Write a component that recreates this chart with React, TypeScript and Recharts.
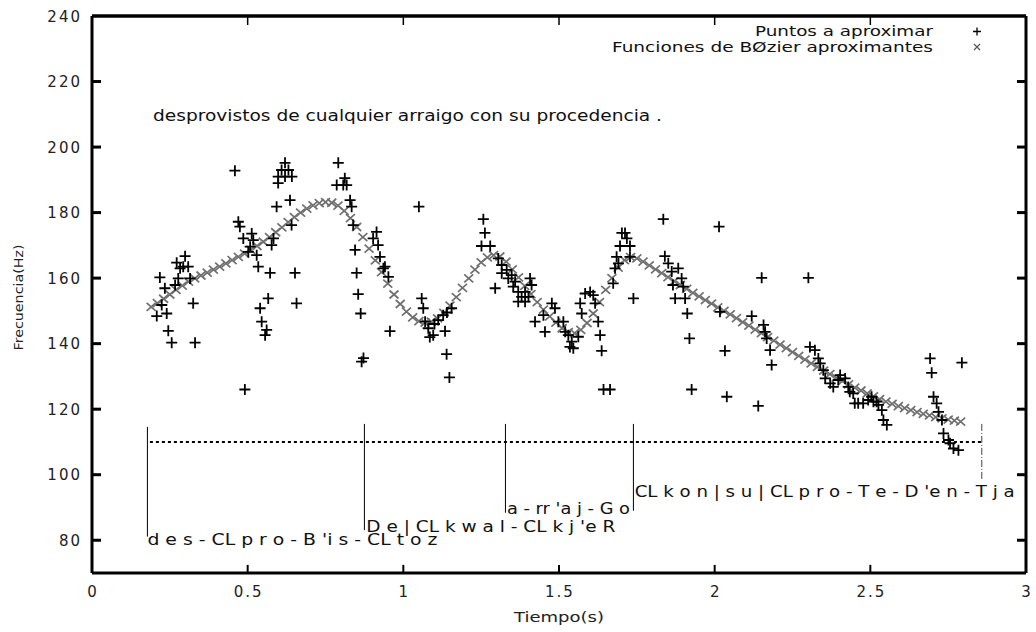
import { ScatterChart, Scatter, XAxis, YAxis, ReferenceLine, ReferenceDot, Legend } from "recharts"

// measured F0 samples: [tiempo (s), frecuencia (Hz)]
const puntos: [number, number][] = [
  [0.208, 148.4], [0.218, 160.2], [0.224, 151.8], [0.234, 156.9], [0.24, 149.2], [0.245, 143.9],
  [0.256, 140.3], [0.267, 157.9], [0.272, 164.7], [0.277, 159.9], [0.283, 163.0], [0.293, 163.5],
  [0.299, 166.7], [0.309, 163.5], [0.315, 159.9], [0.325, 152.3], [0.331, 140.3],
  [0.459, 192.8], [0.47, 177.2], [0.475, 175.7], [0.486, 172.1], [0.491, 126.0], [0.502, 168.0],
  [0.508, 169.6], [0.513, 173.6], [0.518, 171.6], [0.529, 167.0], [0.534, 163.5], [0.54, 150.8],
  [0.545, 146.7], [0.556, 142.6], [0.561, 144.2], [0.566, 153.8], [0.572, 161.6], [0.577, 170.1],
  [0.583, 172.1], [0.593, 181.8], [0.598, 189.0], [0.598, 191.0], [0.609, 193.0], [0.62, 195.2],
  [0.62, 191.0], [0.631, 193.0], [0.636, 183.8], [0.641, 176.2], [0.642, 191.0], [0.652, 161.6],
  [0.657, 152.3],
  [0.786, 188.4], [0.791, 195.2], [0.807, 188.4], [0.812, 190.5], [0.818, 188.4], [0.829, 183.8],
  [0.834, 181.8], [0.839, 176.2], [0.845, 168.6], [0.85, 161.6], [0.855, 155.1], [0.863, 149.2],
  [0.866, 134.5], [0.872, 135.6], [0.903, 172.1], [0.914, 174.1], [0.919, 170.1], [0.925, 166.5],
  [0.936, 163.0], [0.941, 163.5], [0.952, 160.4], [0.957, 143.8],
  [1.05, 181.8], [1.059, 153.8], [1.064, 150.8], [1.07, 146.7], [1.08, 144.7], [1.085, 142.0],
  [1.096, 142.6], [1.1, 146.0], [1.112, 147.2], [1.128, 148.7], [1.134, 143.8], [1.139, 136.8],
  [1.14, 149.5], [1.148, 129.7], [1.155, 150.8],
  [1.251, 169.8], [1.257, 178.0], [1.262, 173.8], [1.279, 169.8], [1.295, 156.9], [1.305, 166.0],
  [1.316, 164.0], [1.316, 161.5], [1.332, 162.5], [1.337, 159.9], [1.348, 160.9], [1.353, 157.4],
  [1.359, 158.9], [1.369, 155.8], [1.369, 152.8], [1.38, 154.3], [1.391, 155.8], [1.391, 152.8],
  [1.402, 154.3], [1.407, 159.9], [1.412, 157.9], [1.423, 146.7], [1.45, 148.7], [1.455, 143.6],
  [1.477, 152.3], [1.487, 150.8],
  [1.498, 146.7], [1.514, 146.7], [1.52, 143.6], [1.53, 142.6], [1.535, 139.0], [1.541, 140.6],
  [1.546, 138.6], [1.562, 142.1], [1.568, 152.3], [1.573, 149.2], [1.584, 155.3], [1.6, 155.8],
  [1.61, 154.8], [1.616, 152.3], [1.626, 146.7], [1.632, 142.6], [1.637, 137.8], [1.643, 126.0],
  [1.664, 126.0], [1.674, 158.4], [1.68, 163.0], [1.685, 166.5], [1.691, 164.5], [1.696, 169.8],
  [1.702, 173.8], [1.712, 173.8], [1.718, 172.1], [1.728, 169.8], [1.728, 166.5], [1.739, 153.8],
  [1.835, 178.0], [1.84, 166.7], [1.851, 164.5], [1.862, 162.0], [1.866, 157.9], [1.873, 153.8],
  [1.883, 163.0], [1.894, 159.9], [1.899, 157.4], [1.905, 153.8], [1.912, 149.2], [1.919, 141.6],
  [1.926, 126.0],
  [2.014, 175.7], [2.017, 149.7], [2.033, 137.8], [2.039, 123.8], [2.119, 148.4], [2.14, 121.0],
  [2.151, 160.1], [2.157, 145.7], [2.162, 143.6], [2.167, 141.6], [2.178, 138.0], [2.183, 133.5],
  [2.301, 160.1], [2.306, 139.0], [2.322, 138.0], [2.333, 135.5], [2.339, 134.0], [2.349, 131.9],
  [2.355, 129.4], [2.371, 127.9], [2.381, 126.8], [2.397, 128.9], [2.403, 130.4], [2.419, 129.4],
  [2.429, 126.8], [2.434, 125.3], [2.445, 124.8], [2.45, 121.8], [2.461, 121.8], [2.477, 121.8],
  [2.493, 122.8], [2.504, 123.8], [2.51, 122.3], [2.52, 122.3], [2.526, 121.3], [2.537, 119.7],
  [2.542, 116.7], [2.553, 115.2],
  [2.692, 135.5], [2.697, 131.1], [2.703, 123.8], [2.713, 121.8], [2.719, 119.2], [2.73, 116.7],
  [2.735, 112.6], [2.751, 110.6], [2.756, 109.6], [2.767, 108.0], [2.783, 107.5], [2.794, 134.2],
]

// approximating Bezier curve samples: [tiempo, frecuencia]
const curvaBezier: [number, number][] = [
  [0.19, 151.2], [0.21, 152.4], [0.23, 153.7], [0.25, 155.0], [0.27, 156.4], [0.29, 157.7],
  [0.31, 158.9], [0.33, 159.9], [0.35, 160.8], [0.37, 161.7], [0.39, 162.6], [0.41, 163.5],
  [0.43, 164.5], [0.45, 165.5], [0.47, 166.5], [0.49, 167.5], [0.51, 168.6], [0.53, 169.8],
  [0.55, 171.1], [0.57, 172.5], [0.59, 174.0], [0.61, 175.5], [0.63, 177.1], [0.65, 178.6],
  [0.67, 180.0], [0.69, 181.2], [0.71, 182.2], [0.73, 182.9], [0.75, 183.2], [0.77, 183.0],
  [0.79, 182.1], [0.81, 180.5], [0.83, 178.3], [0.85, 175.6], [0.87, 172.5], [0.89, 169.0],
  [0.91, 165.4], [0.93, 161.8], [0.95, 158.3], [0.97, 155.0], [0.99, 152.1], [1.01, 149.8],
  [1.03, 148.0], [1.05, 146.9], [1.07, 146.4], [1.09, 146.7], [1.11, 147.7], [1.13, 149.4],
  [1.15, 151.6], [1.17, 154.2], [1.19, 157.0], [1.21, 159.9], [1.23, 162.6], [1.25, 164.8],
  [1.27, 166.3], [1.29, 167.0], [1.31, 166.6], [1.33, 165.0], [1.35, 162.7], [1.37, 160.2],
  [1.39, 157.6], [1.41, 155.1], [1.43, 152.7], [1.45, 150.4], [1.47, 148.3], [1.49, 146.4],
  [1.51, 144.7], [1.53, 143.5], [1.55, 143.2], [1.57, 144.2], [1.59, 146.3], [1.61, 149.2],
  [1.63, 152.7], [1.65, 156.4], [1.67, 160.0], [1.69, 163.2], [1.71, 165.5], [1.73, 166.4],
  [1.75, 166.0], [1.77, 165.0], [1.79, 163.9], [1.81, 162.7], [1.83, 161.5], [1.85, 160.3],
  [1.87, 159.1], [1.89, 157.9], [1.91, 156.7], [1.93, 155.5], [1.95, 154.4], [1.97, 153.3],
  [1.99, 152.2], [2.01, 151.1], [2.03, 150.0], [2.05, 148.9], [2.07, 147.8], [2.09, 146.6],
  [2.11, 145.5], [2.13, 144.3], [2.15, 143.2], [2.17, 142.0], [2.19, 140.9], [2.21, 139.7],
  [2.23, 138.6], [2.25, 137.4], [2.27, 136.3], [2.29, 135.1], [2.31, 134.0], [2.33, 132.9],
  [2.35, 131.8], [2.37, 130.7], [2.39, 129.6], [2.41, 128.6], [2.43, 127.6], [2.45, 126.6],
  [2.47, 125.7], [2.49, 124.8], [2.51, 123.9], [2.53, 123.1], [2.55, 122.3], [2.57, 121.6],
  [2.59, 120.9], [2.61, 120.3], [2.63, 119.7], [2.65, 119.1], [2.67, 118.6], [2.69, 118.1],
  [2.71, 117.6], [2.73, 117.2], [2.75, 116.8], [2.77, 116.5], [2.79, 116.2],
]

const ticksTiempo = [0, 0.5, 1, 1.5, 2, 2.5, 3]
const ticksFrecuencia = [80, 100, 120, 140, 160, 180, 200, 220, 240]
const dominioT: [number, number] = [0, 3]
const dominioF: [number, number] = [70, 240]

// syllable boundaries: [tiempo, f arriba, f abajo]
const fronteras: [number, number, number][] = [
  [0.178, 114.6, 81.1],
  [0.875, 115.5, 83.1],
  [1.328, 115.5, 88.4],
  [1.739, 115.5, 89.0],
]
const finFrase: [number, number, number] = [2.858, 115.5, 98.4]
const nivelReferencia: [number, number, number] = [0.186, 2.858, 110]

// transcription labels: [texto, tiempo, frecuencia de la línea base]
const silabas: [string, number, number][] = [
  ["d e s - CL p r o - B 'i s - CL t o z", 0.178, 78.5],
  ["D e | CL k w a l - CL k j 'e R", 0.881, 82.6],
  ["a - rr 'a j - G o", 1.333, 88.0],
  ["CL k o n | s u | CL p r o - T e - D 'e n - T j a", 1.743, 93.1],
]
const frase: [string, number, number] = ["desprovistos de cualquier arraigo con su procedencia .", 0.196, 208]

const anchoSilabas = [290, 249, 123, 380]
const anchoFrase = 509
const anchoLeyenda = [178, 321]

// inward tick length, in axis units (about 9px each way)
const TICK_T = 0.029
const TICK_F = 2.75

const FONT = "'DejaVu Sans', sans-serif"

const puntosData = puntos.map(([t, f]) => ({ t, f }))
const curvaData = curvaBezier.map(([t, f]) => ({ t, f }))

function Cruz(props: any) {
  const { cx, cy } = props
  if (cx == null || cy == null) return null
  return <path d={`M${cx - 5.5},${cy}h11M${cx},${cy - 5.5}v11`} stroke="#000" strokeWidth={1.8} fill="none" />
}

function Aspa(props: any) {
  const { cx, cy } = props
  if (cx == null || cy == null) return null
  return (
    <path
      d={`M${cx - 4.5},${cy - 4}l9,8M${cx - 4.5},${cy + 4}l9,-8`}
      stroke="#707070"
      strokeWidth={1.7}
      fill="none"
    />
  )
}

function EtiquetaY(props: any) {
  const { x, y, payload } = props
  return (
    <text x={x + 2} y={y} dy={5.5} textAnchor="end" fontFamily={FONT} fontSize={15} letterSpacing={2} fill="#222">
      {payload.value}
    </text>
  )
}

function EtiquetaX(props: any) {
  const { x, y, payload } = props
  return (
    <text x={x + 1} y={y + 24} textAnchor="middle" fontFamily={FONT} fontSize={15} letterSpacing={2} fill="#222">
      {payload.value}
    </text>
  )
}

function Leyenda(props: any) {
  const items = [...(props.payload ?? [])].reverse()
  return (
    <svg width={440} height={46}>
      {items.map((it: any, i: number) => {
        const yb = 22 + i * 16
        const ym = 17.5 + i * 15.5
        return (
          <g key={it.value}>
            <text
              x={343}
              y={yb}
              textAnchor="end"
              fontFamily={FONT}
              fontSize={13.5}
              fill="#111"
              textLength={anchoLeyenda[i]}
              lengthAdjust="spacingAndGlyphs"
            >
              {it.value}
            </text>
            {i === 0 ? (
              <path d={`M${383},${ym}h8M${387},${ym - 4}v8`} stroke="#000" strokeWidth={1.3} />
            ) : (
              <path d={`M${384},${ym - 3}l6,6M${384},${ym + 3}l6,-6`} stroke="#555" strokeWidth={1.2} />
            )}
          </g>
        )
      })}
    </svg>
  )
}

function Texto(texto: string, ancho: number, size = 15) {
  return (props: any) => (
    <text
      x={props.cx}
      y={props.cy}
      fontFamily={FONT}
      fontSize={size}
      fill="#111"
      textLength={ancho}
      lengthAdjust="spacingAndGlyphs"
    >
      {texto}
    </text>
  )
}

const ejes = { xAxisId: "b", yAxisId: "l" }
const borde = { ...ejes, ifOverflow: "visible" as const, stroke: "#000" }

export default function App() {
  const interioresT = ticksTiempo.slice(1, -1)
  const interioresF = ticksFrecuencia.slice(0, -1)
  return (
    <div style={{ position: "absolute", left: 0, top: 0, background: "#fff" }}>
      <ScatterChart width={1036} height={632} margin={{ top: 16, right: 10, bottom: 0, left: 0 }}>
        <XAxis
          xAxisId="b"
          type="number"
          dataKey="t"
          domain={dominioT}
          ticks={ticksTiempo}
          height={59}
          tickSize={0}
          tickMargin={0}
          tick={<EtiquetaX />}
          axisLine={false}
          tickLine={false}
          label={{
            content: ({ viewBox }: any) => (
              <text
                x={viewBox.x + viewBox.width / 2}
                y={viewBox.y + 49}
                textAnchor="middle"
                fontFamily={FONT}
                fontSize={14}
                fill="#222"
                textLength={90}
                lengthAdjust="spacingAndGlyphs"
              >
                Tiempo(s)
              </text>
            ),
          }}
        />
        <YAxis
          yAxisId="l"
          type="number"
          dataKey="f"
          domain={dominioF}
          ticks={ticksFrecuencia}
          width={92}
          tickSize={0}
          tickMargin={12}
          tick={<EtiquetaY />}
          axisLine={false}
          tickLine={false}
          label={{
            content: ({ viewBox }: any) => {
              const cx = viewBox.x + 23
              const cy = viewBox.y + viewBox.height / 2 + 3
              return (
                <text
                  x={cx}
                  y={cy}
                  transform={`rotate(-90 ${cx} ${cy})`}
                  textAnchor="middle"
                  fontFamily={FONT}
                  fontSize={13}
                  fill="#222"
                  textLength={106}
                  lengthAdjust="spacingAndGlyphs"
                >
                  Frecuencia(Hz)
                </text>
              )
            },
          }}
        />

        <Legend
          layout="vertical"
          align="center"
          verticalAlign="middle"
          content={<Leyenda />}
          wrapperStyle={{ left: 590, top: 14, width: 440, height: 46 }}
        />

        {/* frame */}
        <ReferenceLine {...borde} x={dominioT[0]} strokeWidth={3} />
        <ReferenceLine {...borde} x={dominioT[1]} strokeWidth={3} />
        <ReferenceLine {...borde} y={dominioF[0]} strokeWidth={3} />
        <ReferenceLine {...borde} y={dominioF[1]} strokeWidth={3.5} />

        {/* inward ticks on all four sides */}
        {interioresT.map((t) => (
          <ReferenceLine
            key={`b${t}`}
            {...borde}
            segment={[{ x: t, y: dominioF[0] }, { x: t, y: dominioF[0] + TICK_F * 0.9 }]}
            strokeWidth={2}
          />
        ))}
        {interioresT.map((t) => (
          <ReferenceLine
            key={`t${t}`}
            {...borde}
            segment={[{ x: t, y: dominioF[1] }, { x: t, y: dominioF[1] - TICK_F }]}
            strokeWidth={1.5}
          />
        ))}
        {interioresF.map((f) => (
          <ReferenceLine
            key={`l${f}`}
            {...borde}
            segment={[{ x: dominioT[0], y: f }, { x: dominioT[0] + TICK_T, y: f }]}
            strokeWidth={3}
          />
        ))}
        {interioresF.map((f) => (
          <ReferenceLine
            key={`r${f}`}
            {...borde}
            segment={[{ x: dominioT[1] - TICK_T, y: f }, { x: dominioT[1], y: f }]}
            strokeWidth={3}
          />
        ))}

        {fronteras.map(([t, f1, f2]) => (
          <ReferenceLine key={t} {...ejes} segment={[{ x: t, y: f1 }, { x: t, y: f2 }]} stroke="#000" strokeWidth={1} />
        ))}
        <ReferenceLine
          {...ejes}
          segment={[{ x: finFrase[0], y: finFrase[1] }, { x: finFrase[0], y: finFrase[2] }]}
          stroke="#444"
          strokeWidth={1}
          strokeDasharray="7 2 1 2"
        />
        <ReferenceLine
          {...ejes}
          segment={[{ x: nivelReferencia[0], y: nivelReferencia[2] }, { x: nivelReferencia[1], y: nivelReferencia[2] }]}
          stroke="#000"
          strokeWidth={2}
          strokeDasharray="3 3"
        />

        {silabas.map(([texto, t, f], i) => (
          <ReferenceDot key={texto} {...ejes} x={t} y={f} r={0} shape={Texto(texto, anchoSilabas[i])} />
        ))}
        <ReferenceDot {...ejes} x={frase[1]} y={frase[2]} r={0} shape={Texto(frase[0], anchoFrase)} />

        <Scatter
          name="Funciones de BØzier aproximantes"
          {...ejes}
          data={curvaData}
          shape={<Aspa />}
          isAnimationActive={false}
        />
        <Scatter name="Puntos a aproximar" {...ejes} data={puntosData} shape={<Cruz />} isAnimationActive={false} />
      </ScatterChart>
    </div>
  )
}
